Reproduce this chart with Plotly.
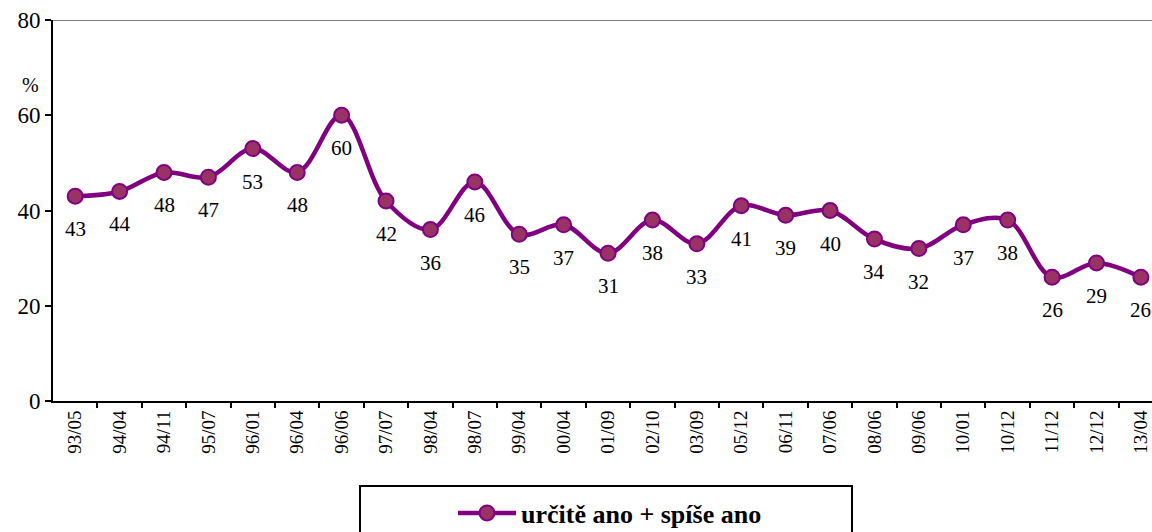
import plotly.graph_objects as go

categories = ["93/05", "94/04", "94/11", "95/07", "96/01", "96/04", "96/06", "97/07",
              "98/04", "98/07", "99/04", "00/04", "01/09", "02/10", "03/09", "05/12",
              "06/11", "07/06", "08/06", "09/06", "10/01", "10/12", "11/12", "12/12", "13/04"]
values = [43, 44, 48, 47, 53, 48, 60, 42, 36, 46, 35, 37, 31, 38, 33, 41, 39, 40, 34, 32, 37, 38, 26, 29, 26]
series_name = "určitě ano + spíše ano"
y_ticks = [0, 20, 40, 60, 80]

FONT = "Liberation Serif, Times New Roman, serif"

W, H = 1152, 532
L, R, T, B = 53, 0, 20, 131
pw = W - L - R
ph = H - T - B

def px_x(p):
    return (p - L) / pw

def px_y(p):
    return (H - B - p) / ph

fig = go.Figure()
fig.add_trace(go.Scatter(
    x=list(range(len(categories))), y=values, name=series_name,
    mode="lines+markers",
    line=dict(color="#800080", width=4.5, shape="spline", smoothing=1.0),
    marker=dict(size=15, color="#993366", line=dict(color="#800080", width=2)),
    showlegend=True,
))

annotations = []
for i, v in enumerate(values):
    annotations.append(dict(x=i, y=v, xref="x", yref="y", text=str(v), showarrow=False,
                            yshift=-33, font=dict(family=FONT, size=21, color="black")))
annotations.append(dict(x=px_x(20), y=px_y(72), xref="paper", yref="paper", text="%",
                        showarrow=False, font=dict(family=FONT, size=20, color="black")))

shapes = [
    dict(type="line", xref="paper", yref="y", x0=0, x1=1, y0=80, y1=80,
         line=dict(color="#808080", width=2)),
    dict(type="rect", xref="paper", yref="paper", x0=px_x(360), x1=px_x(852),
         y0=px_y(486), y1=px_y(545), line=dict(color="black", width=2), fillcolor="rgba(0,0,0,0)"),
]

fig.update_layout(
    width=W, height=H,
    margin=dict(l=L, r=R, t=T, b=B, autoexpand=False),
    paper_bgcolor="white", plot_bgcolor="white",
    font=dict(family=FONT, color="black"),
    annotations=annotations, shapes=shapes,
    legend=dict(x=px_x(453), y=px_y(513), xanchor="left", yanchor="middle",
                orientation="h", bgcolor="rgba(0,0,0,0)", itemwidth=58,
                font=dict(family=FONT, size=26, color="black", weight="bold")),
    xaxis=dict(
        range=[-0.5, 24.25], tickmode="array", tickvals=list(range(len(categories))),
        ticktext=categories, tickangle=-90, tickfont=dict(family=FONT, size=19),
        showline=True, linecolor="black", linewidth=2, showgrid=False, zeroline=False,
        ticks="", fixedrange=True,
    ),
    yaxis=dict(
        range=[0, 80], tickvals=y_ticks, tickfont=dict(family=FONT, size=23),
        showline=True, linecolor="black", linewidth=2, showgrid=False, zeroline=False,
        ticks="outside", ticklen=6, tickwidth=2, tickcolor="black",
    ),
)

# category-boundary ticks on the x-axis
fig.add_trace(go.Scatter(x=[], y=[], showlegend=False))
fig.update_layout(xaxis2=dict(
    overlaying="x", range=[-0.5, 24.25], tickvals=[i + 0.5 for i in range(len(categories) - 1)],
    showticklabels=False, ticks="outside", ticklen=6, tickwidth=2, tickcolor="black",
    showgrid=False, zeroline=False, side="bottom", showline=False, anchor="y",
))
fig.data[-1].update(xaxis="x2")

fig.write_html("out.html", config={"displayModeBar": False},
               post_script="document.body.style.margin='0';document.body.style.overflow='hidden';")
